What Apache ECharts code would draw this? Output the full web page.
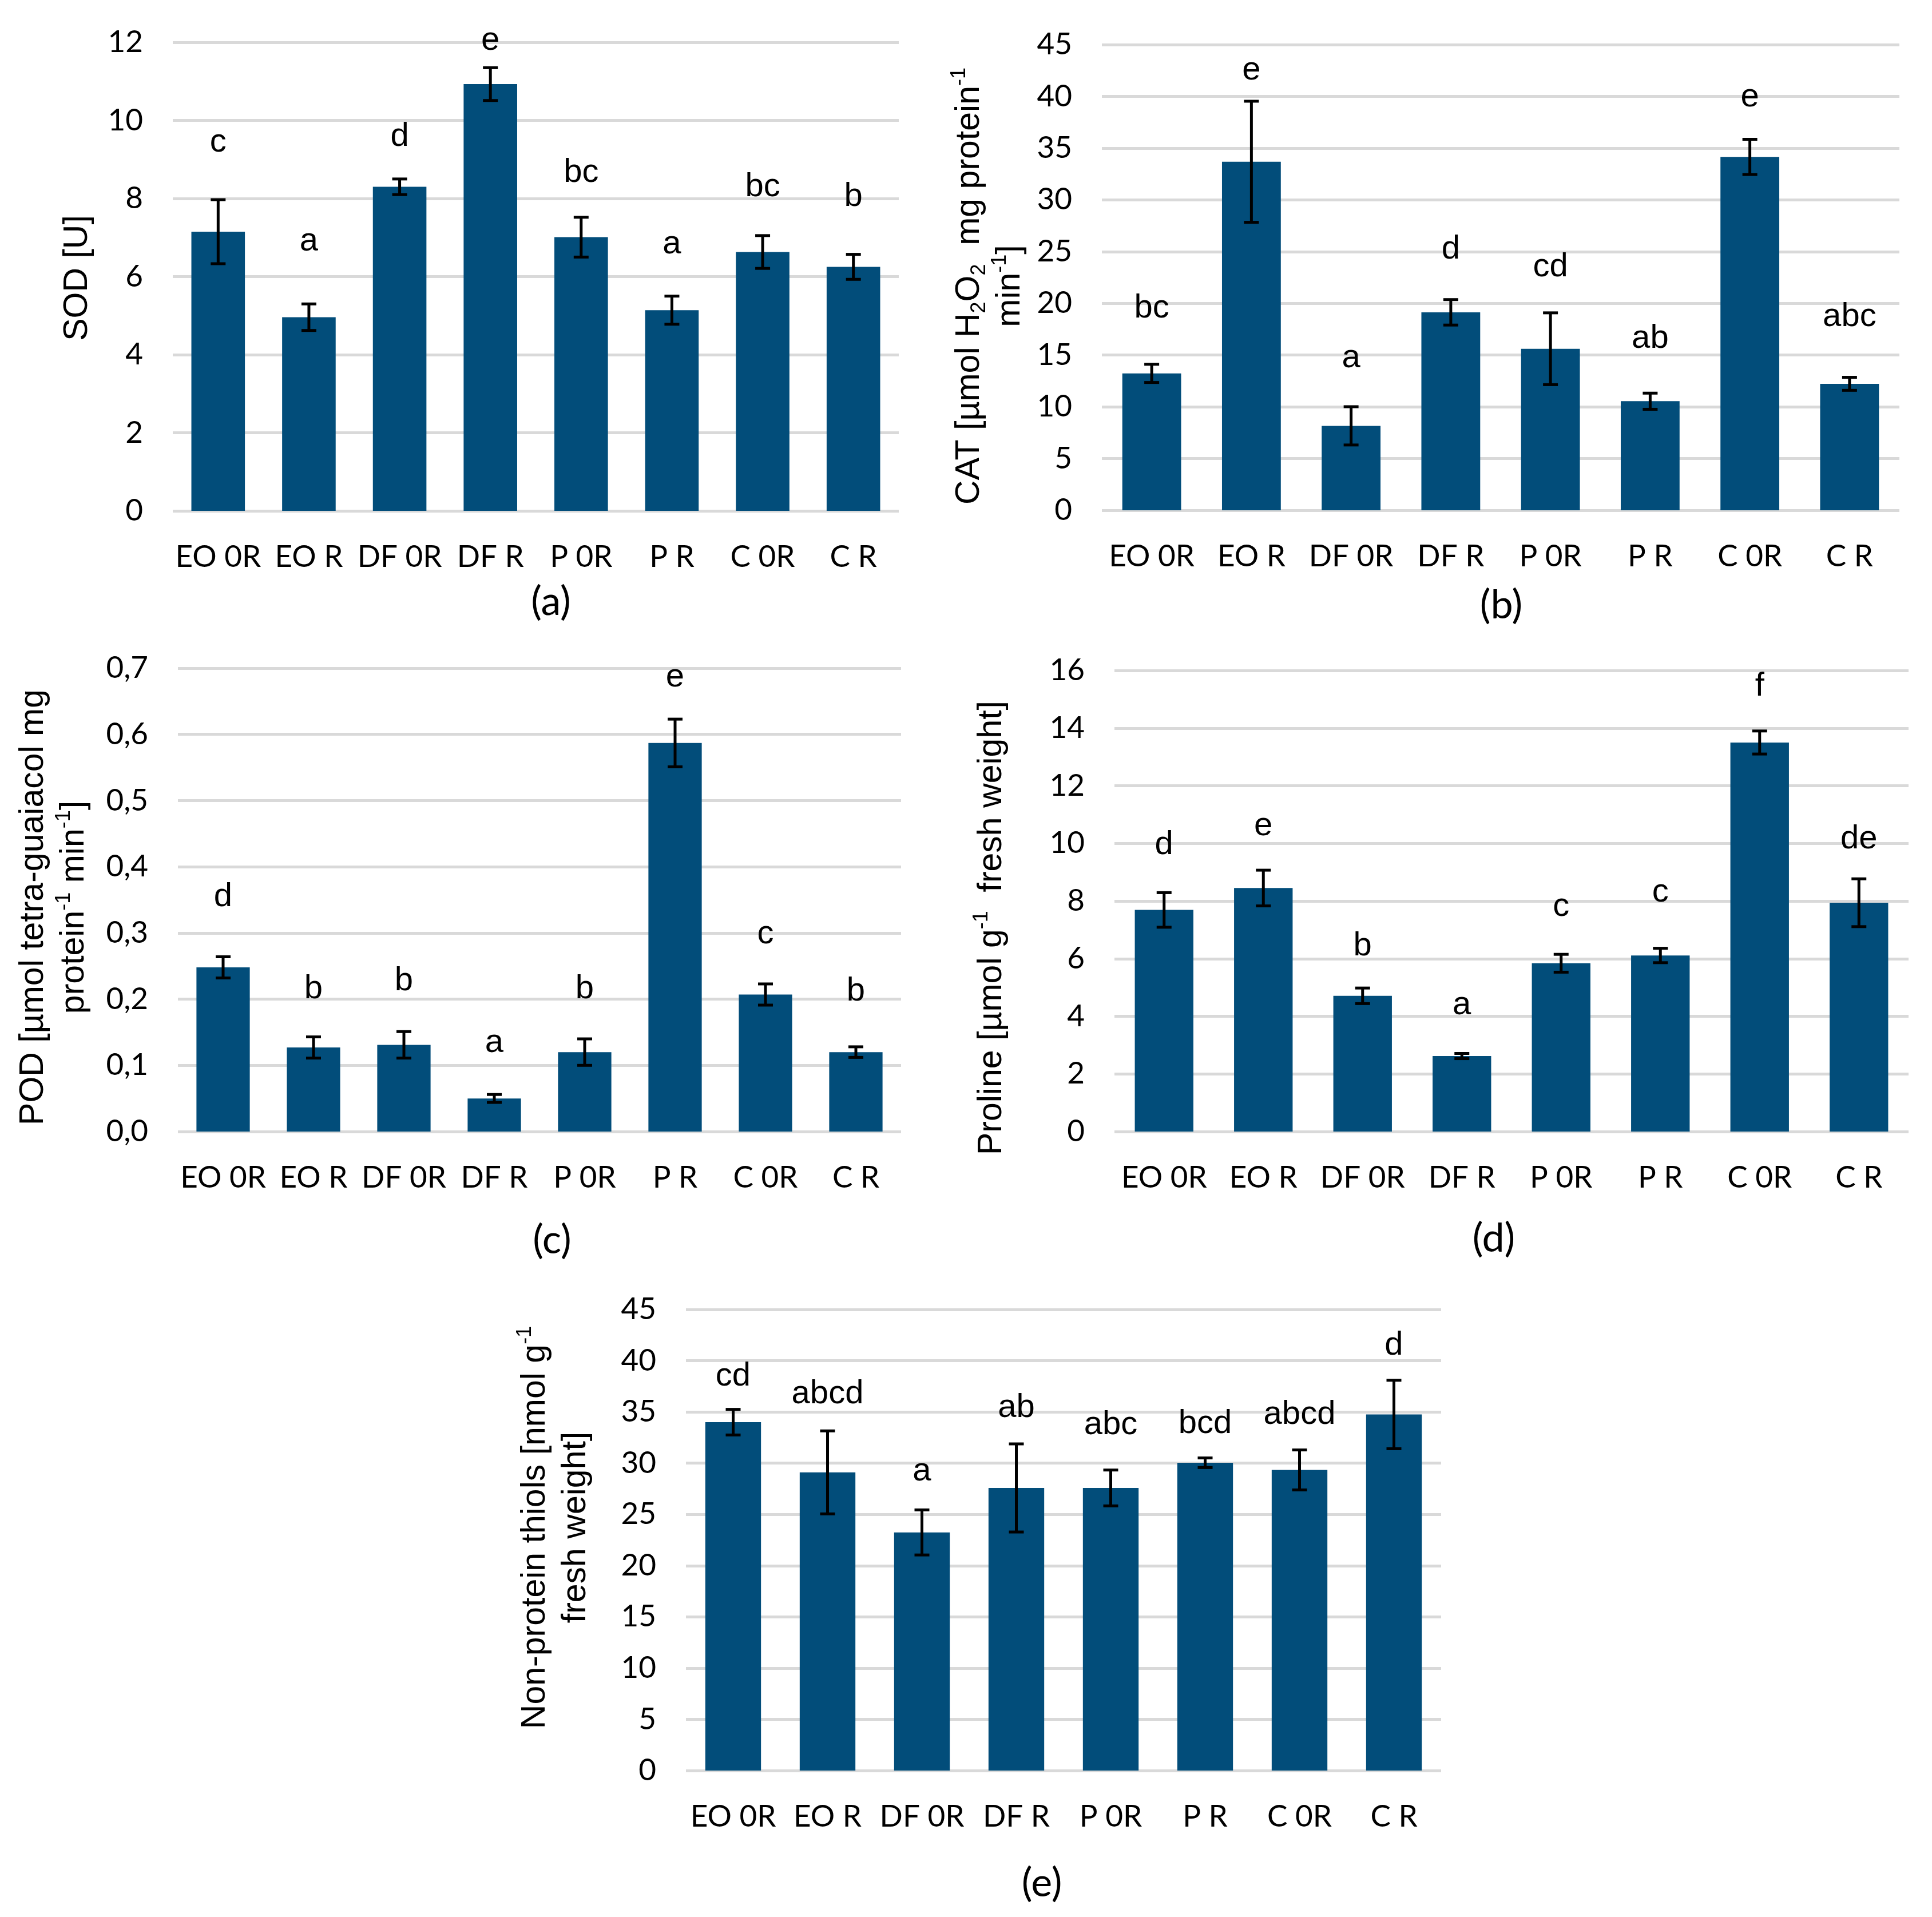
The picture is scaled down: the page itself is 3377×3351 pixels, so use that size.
<!DOCTYPE html>
<html><head><meta charset="utf-8">
<script src="https://cdn.jsdelivr.net/npm/echarts@6/dist/echarts.min.js"></script>
<style>html,body{margin:0;padding:0;background:#fff}#c{width:3377px;height:3351px}</style>
</head><body><div id="c"></div>
<script>
// ---------- data ----------
const categories = ['EO 0R', 'EO R', 'DF 0R', 'DF R', 'P 0R', 'P R', 'C 0R', 'C R'];

const sodMean = [7.15, 4.96, 8.30, 10.93, 7.01, 5.14, 6.63, 6.25];
const sodErr = [0.82, 0.34, 0.20, 0.42, 0.51, 0.36, 0.42, 0.32];
const sodLetters = ['c', 'a', 'd', 'e', 'bc', 'a', 'bc', 'b'];
const sodLetterY = [9.43, 6.90, 9.58, 12.05, 8.66, 6.83, 8.30, 8.04];

const catMean = [13.23, 33.68, 8.16, 19.13, 15.61, 10.54, 34.15, 12.22];
const catErr = [0.88, 5.85, 1.85, 1.23, 3.47, 0.78, 1.70, 0.63];
const catLetters = ['bc', 'e', 'a', 'd', 'cd', 'ab', 'e', 'abc'];
const catLetterY = [19.5, 42.5, 14.7, 25.2, 23.5, 16.6, 39.9, 18.7];

const podMean = [0.248, 0.127, 0.131, 0.050, 0.120, 0.587, 0.207, 0.120];
const podErr = [0.016, 0.016, 0.020, 0.006, 0.020, 0.036, 0.016, 0.008];
const podLetters = ['d', 'b', 'b', 'a', 'b', 'e', 'c', 'b'];
const podLetterY = [0.354, 0.215, 0.227, 0.134, 0.215, 0.686, 0.298, 0.212];

const prolMean = [7.69, 8.45, 4.71, 2.62, 5.84, 6.11, 13.50, 7.94];
const prolErr = [0.60, 0.62, 0.27, 0.09, 0.31, 0.25, 0.40, 0.83];
const prolLetters = ['d', 'e', 'b', 'a', 'c', 'c', 'f', 'de'];
const prolLetterY = [9.95, 10.6, 6.44, 4.39, 7.81, 8.30, 15.44, 10.15];

const nptMean = [34.00, 29.10, 23.24, 27.58, 27.58, 30.04, 29.34, 34.75];
const nptErr = [1.25, 4.05, 2.20, 4.30, 1.75, 0.47, 1.95, 3.34];
const nptLetters = ['cd', 'abcd', 'a', 'ab', 'abc', 'bcd', 'abcd', 'd'];
const nptLetterY = [38.44, 36.72, 29.2, 35.37, 33.73, 33.85, 34.75, 41.5];

const panelTags = ['(a)', '(b)', '(c)', '(d)', '(e)'];

// ---------- style / layout ----------
const BAR = '#024d7a';
const GRIDC = '#d9d9d9';
const TICKF = 'Lato, Carlito, "Liberation Sans Narrow", sans-serif';
const ARIAL = '"Liberation Sans", Arial, sans-serif';

const layout = [
  {left: 302, top: 74, width: 1269, height: 819, max: 12, interval: 2, fmt: v => String(v)},
  {left: 1926, top: 78, width: 1394, height: 814, max: 45, interval: 5, fmt: v => String(v)},
  {left: 311, top: 1168, width: 1264, height: 810, max: 0.7, interval: 0.1, fmt: v => v.toFixed(1).replace('.', ',')},
  {left: 1948, top: 1172, width: 1388, height: 806, max: 16, interval: 2, fmt: v => String(v)},
  {left: 1199, top: 2289, width: 1320, height: 806, max: 45, interval: 5, fmt: v => String(v)}
];
const panels = [
  [sodMean, sodErr, sodLetters, sodLetterY],
  [catMean, catErr, catLetters, catLetterY],
  [podMean, podErr, podLetters, podLetterY],
  [prolMean, prolErr, prolLetters, prolLetterY],
  [nptMean, nptErr, nptLetters, nptLetterY]
];

const grids = [], xAxes = [], yAxes = [], series = [];
panels.forEach((p, k) => {
  const L = layout[k];
  const [means, errs, letters, ly] = p;
  grids.push({left: L.left, top: L.top, width: L.width, height: L.height, containLabel: false});
  xAxes.push({
    type: 'category', gridIndex: k, data: categories,
    axisLine: {show: false}, axisTick: {show: false},
    axisLabel: {interval: 0, margin: 54, fontSize: 53, fontFamily: TICKF, color: '#000'}
  });
  yAxes.push({
    type: 'value', gridIndex: k, min: 0, max: L.max, interval: L.interval,
    axisLine: {show: false}, axisTick: {show: false},
    splitLine: {lineStyle: {color: GRIDC, width: 5}},
    axisLabel: {margin: 52, fontSize: 53, fontFamily: TICKF, color: '#000', formatter: L.fmt}
  });
  series.push({
    type: 'bar', xAxisIndex: k, yAxisIndex: k, data: means, barWidth: '59%',
    itemStyle: {color: BAR}, z: 2
  });
  series.push({
    type: 'custom', xAxisIndex: k, yAxisIndex: k, z: 5,
    data: means.map((m, i) => [i, m, errs[i]]),
    encode: {x: 0, y: 1},
    renderItem: function (params, api) {
      const i = api.value(0), m = api.value(1), e = api.value(2);
      const t = api.coord([i, m + e]);
      const b = api.coord([i, m - e]);
      const hw = 13;
      const st = {stroke: '#000', lineWidth: 5};
      return {type: 'group', children: [
        {type: 'line', shape: {x1: t[0], y1: t[1], x2: b[0], y2: b[1]}, style: st},
        {type: 'line', shape: {x1: t[0] - hw, y1: t[1], x2: t[0] + hw, y2: t[1]}, style: st},
        {type: 'line', shape: {x1: b[0] - hw, y1: b[1], x2: b[0] + hw, y2: b[1]}, style: st}
      ]};
    }
  });
  series.push({
    type: 'custom', xAxisIndex: k, yAxisIndex: k, z: 6,
    data: ly.map((y, i) => [i, y]),
    encode: {x: 0, y: 1},
    renderItem: function (params, api) {
      const pt = api.coord([api.value(0), api.value(1)]);
      return {type: 'text', x: pt[0], y: pt[1], style: {
        text: letters[params.dataIndex], fontSize: 58, fontFamily: ARIAL, fill: '#000',
        align: 'center', verticalAlign: 'middle'
      }};
    }
  });
});

// ---------- axis titles (rich text, rotated) ----------
const rich = {
  n: {fontSize: 59, fontFamily: ARIAL, lineHeight: 71, fill: '#000', color: '#000'},
  sup: {fontSize: 36, fontFamily: ARIAL, lineHeight: 36, verticalAlign: 'top', fill: '#000', color: '#000'},
  sub: {fontSize: 36, fontFamily: ARIAL, lineHeight: 36, verticalAlign: 'bottom', fill: '#000', color: '#000'}
};
const titles = [
  {x: 136, y: 486, text: '{n|SOD [U]}'},
  {x: 1730, y: 500, text: '{n|CAT [µmol H}{sub|2}{n|O}{sub|2}{n|  mg protein}{sup|-1}\n{n|min}{sup|-1}{n|]}'},
  {x: 94, y: 1586, text: '{n|POD [µmol tetra-guaiacol mg}\n{n|protein}{sup|-1}{n| min}{sup|-1}{n|]}'},
  {x: 1734, y: 1622, text: '{n|Proline [µmol g}{sup|-1}{n|  fresh weight]}'},
  {x: 971, y: 2670, text: '{n|Non-protein thiols [nmol g}{sup|-1}\n{n|fresh weight]}'}
];
const tagPos = [[963, 1052], [2624, 1058], [965, 2168], [2611, 2165], [1821, 3292]];

const graphic = [];
titles.forEach(t => {
  graphic.push({
    type: 'text', x: t.x, y: t.y, rotation: Math.PI / 2, z: 10,
    style: {text: t.text, rich: rich, fontSize: 59, fontFamily: ARIAL, fill: '#000',
      align: 'center', verticalAlign: 'middle'}
  });
});
panelTags.forEach((s, k) => {
  graphic.push({
    type: 'text', x: tagPos[k][0], y: tagPos[k][1], z: 10,
    style: {text: s, fontSize: 70, fontFamily: TICKF, fill: '#000', align: 'center', verticalAlign: 'middle'}
  });
});

const chart = echarts.init(document.getElementById('c'), null, {renderer: 'canvas'});
chart.setOption({
  animation: false,
  backgroundColor: '#fff',
  grid: grids, xAxis: xAxes, yAxis: yAxes, series: series, graphic: graphic
});
</script></body></html>
